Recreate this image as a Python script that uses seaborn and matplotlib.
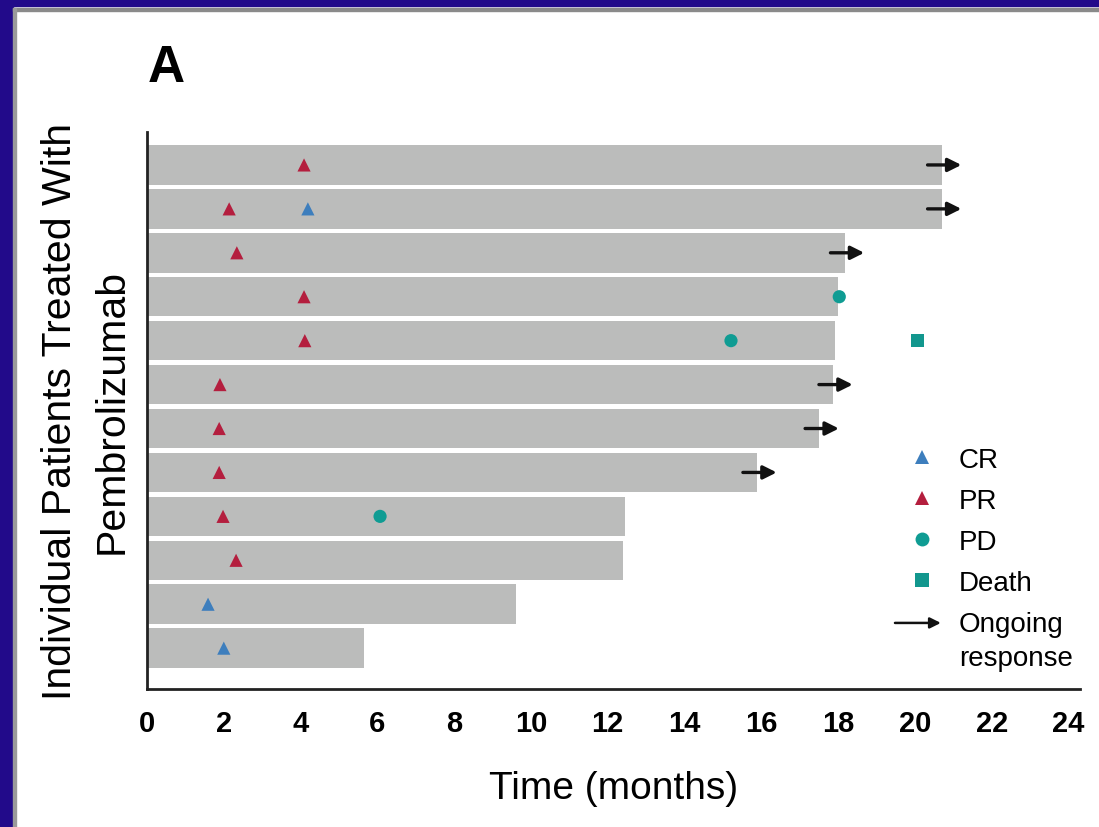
import numpy as np
import pandas as pd
import matplotlib
matplotlib.use("Agg")
import matplotlib.pyplot as plt
import seaborn as sns
from matplotlib.lines import Line2D
from matplotlib.patches import FancyArrowPatch, Rectangle
from matplotlib.legend_handler import HandlerBase

# ---------------- data ----------------
patients = [f"Patient {i}" for i in range(1, 13)]
durations = [20.70, 20.70, 18.17, 18.00, 17.93, 17.87, 17.51, 15.89, 12.45, 12.40, 9.61, 5.65]
ongoing = [True, True, True, False, False, True, True, True, False, False, False, False]

event_patient = [1, 2, 2, 3, 4, 4, 5, 5, 5, 6, 7, 8, 9, 9, 10, 11, 12]
event_time = [4.09, 2.14, 4.19, 2.34, 4.09, 18.03, 4.11, 15.21, 20.06,
              1.90, 1.88, 1.88, 1.98, 6.07, 2.32, 1.59, 2.00]
event_type = ["PR", "PR", "CR", "PR", "PR", "PD", "PR", "PD", "Death",
              "PR", "PR", "PR", "PR", "PD", "PR", "CR", "CR"]

x_ticks = [0, 2, 4, 6, 8, 10, 12, 14, 16, 18, 20, 22, 24]
legend_labels = ["CR", "PR", "PD", "Death", "Ongoing\nresponse"]

# ---------------- style ----------------
sns.set_style("white")
plt.rcParams["font.family"] = ["Liberation Sans", "DejaVu Sans"]
plt.rcParams["text.color"] = "black"
plt.rcParams["axes.labelcolor"] = "black"
plt.rcParams["xtick.color"] = "black"

colors = {"CR": "#3D7EBD", "PR": "#B41E3E", "PD": "#0F9C93", "Death": "#12978E"}
markers = {"CR": "^", "PR": "^", "PD": "o", "Death": "s"}
bar_color = "#BBBCBB"
ARROW_BACK = 0.37
ARROW_LEN = 0.88

bars = pd.DataFrame({"patient": patients, "duration": durations})
events = pd.DataFrame({
    "row": [p - 1 for p in event_patient],
    "time": event_time,
    "event": event_type,
})

fig = plt.figure(figsize=(10.99, 8.28), dpi=100)
fig.patch.set_facecolor("white")

# navy frame (top & left) with grey shadow lines
fig.patches.append(Rectangle((0, 1 - 7 / 828), 1, 7 / 828, transform=fig.transFigure,
                             color="#220A8A", zorder=0))
fig.patches.append(Rectangle((0, 0), 13 / 1099, 1, transform=fig.transFigure,
                             color="#220A8A", zorder=0))
fig.patches.append(Rectangle((13 / 1099, 1 - 12 / 828), 1, 3 / 828, transform=fig.transFigure,
                             color="#8A8A8A", zorder=0))
fig.patches.append(Rectangle((13 / 1099, 0), 3 / 1099, 1 - 9 / 828, transform=fig.transFigure,
                             color="#9A9A9A", zorder=0))

ax = fig.add_axes([147 / 1099, 138 / 828, 933 / 1099, 557 / 828])

sns.barplot(data=bars, x="duration", y="patient", orient="h", color=bar_color,
            saturation=1, width=0.9, edgecolor="none", ax=ax, zorder=1)

sns.scatterplot(data=events, x="time", y="row", hue="event", style="event",
                palette=colors, markers=markers, s=90, edgecolor="none",
                legend=False, ax=ax, zorder=3)

for i, (d, og) in enumerate(zip(durations, ongoing)):
    if og:
        ax.annotate("", xy=(d - ARROW_BACK + ARROW_LEN, i), xytext=(d - ARROW_BACK, i),
                    arrowprops=dict(arrowstyle="-|>", color="#111111", lw=2.4,
                                    mutation_scale=20, shrinkA=0, shrinkB=0),
                    zorder=4)

ax.set_xlim(0, 24.3)
ax.set_ylim(11.93, -0.75)
ax.set_xticks(x_ticks)
ax.set_xticklabels([str(t) for t in x_ticks], fontsize=21, fontweight="bold")
ax.set_yticks([])
ax.tick_params(axis="x", direction="out", length=9.5, width=1.6, color="#333333", pad=5)

for s in ["top", "right"]:
    ax.spines[s].set_visible(False)
for s in ["left", "bottom"]:
    ax.spines[s].set_color("#222222")
    ax.spines[s].set_linewidth(2.0)

ax.set_xlabel("Time (months)", fontsize=28, labelpad=24)
ax.set_ylabel("Individual Patients Treated With\nPembrolizumab", fontsize=29.5, linespacing=1.45)
ax.yaxis.set_label_coords(-0.018, 0.5)


# ---------------- legend ----------------
class ArrowHandler(HandlerBase):
    def __init__(self, yoff=0.0, **kw):
        super().__init__(**kw)
        self.yoff = yoff

    def create_artists(self, legend, orig_handle, xdescent, ydescent, width, height,
                       fontsize, trans):
        y = height / 2 - ydescent + self.yoff
        arr = FancyArrowPatch((-xdescent, y), (width - xdescent - 6, y),
                              arrowstyle="-|>", mutation_scale=16, lw=1.8,
                              color="#111111", shrinkA=0, shrinkB=0, transform=trans)
        return [arr]


arrow_handle = Line2D([], [], color="#111111")
handles = [Line2D([], [], marker=markers[k], color=colors[k], linestyle="none",
                  markersize=10, markeredgewidth=0) for k in ["CR", "PR", "PD", "Death"]]
handles.append(arrow_handle)

leg = ax.legend(handles, legend_labels, loc="upper left", bbox_to_anchor=(0.8017, 0.435),
                frameon=False, fontsize=20, borderpad=0, borderaxespad=0,
                handlelength=1.95, handletextpad=0.35, labelspacing=0.54,
                handler_map={arrow_handle: ArrowHandler(yoff=13)})
leg.get_texts()[-1].set_linespacing(1.4)

fig.text(148 / 1099, 1 - 82 / 828, "A", fontsize=37, fontweight="bold", va="baseline",
         ha="left")

fig.savefig("out.png", dpi=100, facecolor=fig.get_facecolor())
